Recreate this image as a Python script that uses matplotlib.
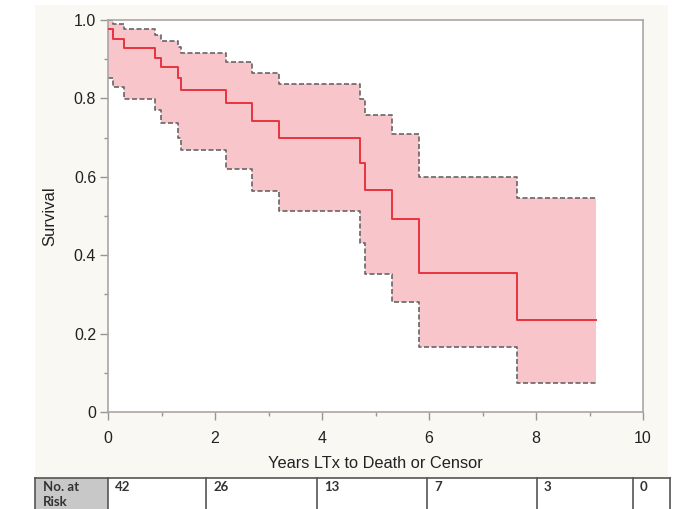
import matplotlib
matplotlib.use("Agg")
import matplotlib.pyplot as plt
from matplotlib.patches import Rectangle
from matplotlib.lines import Line2D
from matplotlib.ticker import MultipleLocator

plt.rcParams["font.family"] = ["Liberation Sans", "DejaVu Sans"]

# Kaplan-Meier estimate with 95% band (step values after each time)
times = [0.0, 0.09, 0.29, 0.88, 0.99, 1.30, 1.36, 2.20, 2.70, 3.20, 4.71, 4.81, 5.31, 5.81, 7.64]
surv = [0.976, 0.952, 0.928, 0.904, 0.879, 0.851, 0.822, 0.787, 0.742, 0.699, 0.636, 0.566, 0.493, 0.355, 0.235]
upper = [1.0, 0.990, 0.977, 0.962, 0.947, 0.930, 0.915, 0.892, 0.866, 0.836, 0.798, 0.757, 0.708, 0.599, 0.545]
lower = [0.853, 0.828, 0.798, 0.770, 0.737, 0.700, 0.668, 0.621, 0.563, 0.514, 0.431, 0.352, 0.281, 0.165, 0.073]
last_followup = 9.12

risk_label = "No. at\nRisk"
risk_counts = ["42", "26", "13", "7", "3", "0"]

W, H = 687, 509
fig = plt.figure(figsize=(W / 100, H / 100), dpi=100)
fig.patch.set_facecolor("white")

def fx(px):
    return px / W

def fy(py):
    return 1 - py / H

# off-white panel behind the plot
fig.patches.append(Rectangle((fx(35), fy(478)), fx(668) - fx(35), fy(5) - fy(478),
                             transform=fig.transFigure, facecolor="#f9f8f3",
                             edgecolor="none", zorder=-5))

ax = fig.add_axes([fx(108), fy(412), fx(643) - fx(108), fy(20) - fy(412)])
ax.set_facecolor("white")

t = times + [last_followup]
s = surv + [surv[-1]]
u = upper + [upper[-1]]
lo = lower + [lower[-1]]

ax.fill_between(t, lo, u, step="post", facecolor="#f8c5ca", edgecolor="none", zorder=1)
ax.step(t, u, where="post", color="#666666", lw=1.2, ls=(0, (3, 1.5)), zorder=2)
ax.step(t, lo, where="post", color="#666666", lw=1.2, ls=(0, (3, 1.5)), zorder=2)
ax.step(t, s, where="post", color="#e8343d", lw=1.4, zorder=3)

ax.set_xlim(0, 10)
ax.set_ylim(0, 1.0)
ax.xaxis.set_major_locator(MultipleLocator(2))
ax.xaxis.set_minor_locator(MultipleLocator(1))
ax.yaxis.set_major_locator(MultipleLocator(0.2))
ax.yaxis.set_minor_locator(MultipleLocator(0.1))
ax.set_yticks([0, 0.2, 0.4, 0.6, 0.8, 1.0], ["0", "0.2", "0.4", "0.6", "0.8", "1.0"])

for sp in ax.spines.values():
    sp.set_color("#aaa6a6")
    sp.set_linewidth(1.2)

ax.tick_params(which="major", direction="out", length=6, width=1, color="#999595",
               labelsize=11.5, labelcolor="#222222")
ax.tick_params(axis="x", which="major", pad=8)
ax.tick_params(axis="y", which="major", pad=2.5)
ax.tick_params(which="minor", direction="out", length=3, width=1, color="#999595")

ax.set_xlabel("Years LTx to Death or Censor", fontsize=11.8, color="#222222", labelpad=7)
ax.set_ylabel("Survival", fontsize=12, color="#222222", labelpad=12)

# number-at-risk table under the chart
edges = [35, 108, 206, 317, 427, 537, 633, 670]
top, bottom = 478, 520
fig.patches.append(Rectangle((fx(edges[0]), fy(bottom)), fx(edges[1]) - fx(edges[0]),
                             fy(top) - fy(bottom), transform=fig.transFigure,
                             facecolor="#c9c8c8", edgecolor="none", zorder=-4))
fig.lines.append(Line2D([fx(edges[0]), fx(edges[-1])], [fy(top), fy(top)],
                        transform=fig.transFigure, color="#555555", lw=1.2))
for e in edges:
    fig.lines.append(Line2D([fx(e), fx(e)], [fy(top), fy(bottom)],
                            transform=fig.transFigure, color="#555555", lw=1.2))

fig.text(fx(edges[0] + 8), fy(481), risk_label, fontsize=9.5, fontweight="bold",
         color="#333333", va="top", ha="left", linespacing=1.25,
         family=["Lato", "DejaVu Sans"])
for i, c in enumerate(risk_counts):
    fig.text(fx(edges[i + 1] + 7), fy(481), c, fontsize=9.5, fontweight="bold",
             color="#333333", va="top", ha="left", family=["Lato", "DejaVu Sans"])

fig.savefig("out.png", dpi=100)
